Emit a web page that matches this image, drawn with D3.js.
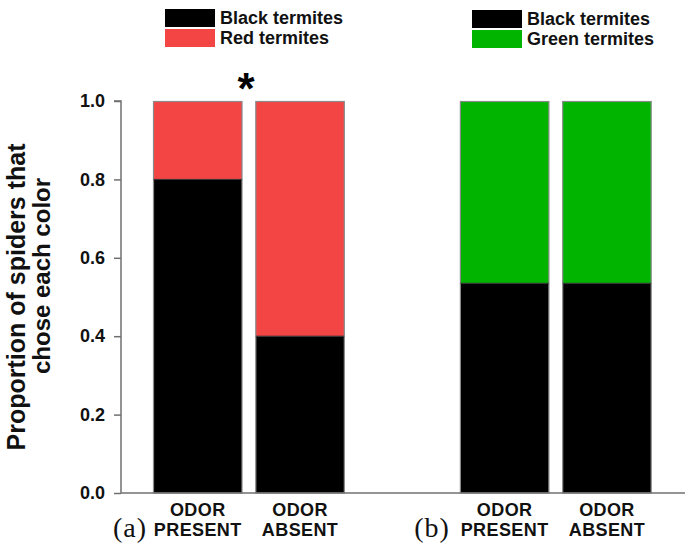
<!DOCTYPE html>
<html>
<head>
<meta charset="utf-8">
<script src="https://cdn.jsdelivr.net/npm/d3@7"></script>
<style>
  html, body { margin: 0; padding: 0; background: #fff; }
  svg { display: block; }
  text { font-family: "Liberation Sans", Arial, sans-serif; font-weight: bold; }
</style>
</head>
<body>
<svg id="chart" width="685" height="544"></svg>
<script>
// ---- data ----
const slots = ["a-present", "a-absent", "gap", "b-present", "b-absent"];
const barSlots = ["a-present", "a-absent", "b-present", "b-absent"];
const barGroup = ["a", "a", "b", "b"];
const blackValues = [0.80, 0.40, 0.535, 0.535];
const colorValues = [0.20, 0.60, 0.465, 0.465];
const conditionLine1 = ["ODOR", "ODOR", "ODOR", "ODOR"];
const conditionLine2 = ["PRESENT", "ABSENT", "PRESENT", "ABSENT"];
const panelLabels = ["(a)", "(b)"];
const legendA = ["Black termites", "Red termites"];
const legendB = ["Black termites", "Green termites"];
const yTicks = [0, 0.2, 0.4, 0.6, 0.8, 1.0];
const yTickLabels = ["0.0", "0.2", "0.4", "0.6", "0.8", "1.0"];
const yTitle = ["Proportion of spiders that", "chose each color"];

// ---- styles ----
const colBlack = "#000000";
const colRed = "#f44545";
const colGreen = "#00b400";
const axisCol = "#707070";

const svg = d3.select("#chart");

const y = d3.scaleLinear().domain([0, 1]).range([493, 101]);
const x = d3.scaleBand().domain(slots).range([153, 651.7]).paddingInner(0.125).paddingOuter(0);

const rows = barSlots.map((s, i) => ({slot: s, group: barGroup[i], black: blackValues[i], color: colorValues[i]}));
const stack = d3.stack().keys(["black", "color"]);
const series = stack(rows);

// bars
series.forEach(ser => {
  svg.append("g").selectAll("rect").data(ser).join("rect")
    .attr("x", d => x(d.data.slot) + 0.5)
    .attr("y", d => y(d[1]))
    .attr("width", x.bandwidth() - 1)
    .attr("height", d => y(d[0]) - y(d[1]))
    .attr("fill", d => ser.key === "black" ? colBlack : (d.data.group === "a" ? colRed : colGreen));
});
// bar outlines
svg.append("g").selectAll("rect").data(rows).join("rect")
  .attr("x", d => x(d.slot) + 0.5)
  .attr("y", y(1) + 0.5)
  .attr("width", x.bandwidth() - 1)
  .attr("height", y(0) - y(1) - 0.5)
  .attr("fill", "none")
  .attr("stroke", "#8a8a8a")
  .attr("stroke-width", 1.2);
// separators
svg.append("g").selectAll("line").data(rows).join("line")
  .attr("x1", d => x(d.slot) + 0.5)
  .attr("x2", d => x(d.slot) + x.bandwidth() - 0.5)
  .attr("y1", d => y(d.black))
  .attr("y2", d => y(d.black))
  .attr("stroke", "#333")
  .attr("stroke-width", 1);

// y axis
const yAxis = d3.axisLeft(y).tickValues(yTicks).tickFormat((d, i) => yTickLabels[i]).tickSize(7).tickPadding(9);
const gy = svg.append("g").attr("transform", "translate(121,0)").call(yAxis);
gy.select(".domain").attr("stroke", axisCol).attr("stroke-width", 1.5).attr("d", `M-7,${y(1)}H0V${y(0)}`);
gy.selectAll(".tick line").attr("stroke", axisCol).attr("stroke-width", 1.5);
gy.selectAll(".tick text").attr("fill", "#111").style("font-size", "18px").style("font-family", "'Liberation Sans', Arial, sans-serif").style("font-weight", "bold");

// x axis baseline
svg.append("line").attr("x1", 121).attr("x2", 685).attr("y1", y(0)).attr("y2", y(0))
  .attr("stroke", axisCol).attr("stroke-width", 1.5);

// x labels
const lab = svg.append("g");
rows.forEach((d, i) => {
  const cx = x(d.slot) + x.bandwidth() / 2;
  lab.append("text").attr("x", cx).attr("y", 516).attr("text-anchor", "middle")
    .style("font-size", "18px").style("letter-spacing", "0.4px").attr("fill", "#111").text(conditionLine1[i]);
  lab.append("text").attr("x", cx).attr("y", 536).attr("text-anchor", "middle")
    .style("font-size", "18px").style("letter-spacing", "0.4px").attr("fill", "#111").text(conditionLine2[i]);
});
// panel labels
const panelX = [130, 432];
panelLabels.forEach((t, i) => {
  svg.append("text").attr("x", panelX[i]).attr("y", 537).attr("text-anchor", "middle")
    .style("font-family", "'Liberation Serif', 'Times New Roman', serif").style("font-weight", "normal")
    .style("font-size", "28px").style("letter-spacing", "1px").attr("fill", "#111").text(t);
});

// y title (two lines)
const titleCenter = [297, 276];
const titleSize = [25, 24];
const titleBase = [25, 50];
yTitle.forEach((t, i) => {
  svg.append("text").attr("transform", `translate(${titleBase[i]},${titleCenter[i]}) rotate(-90)`)
    .attr("text-anchor", "middle").style("font-size", titleSize[i] + "px").attr("fill", "#111").text(t);
});

// legends
function legend(labels, colors, sx, tx, y0) {
  const g = svg.append("g");
  labels.forEach((t, i) => {
    g.append("rect").attr("x", sx).attr("y", y0 + i * 20).attr("width", 50).attr("height", 18)
      .attr("fill", colors[i]);
    g.append("text").attr("x", tx).attr("y", y0 + 15 + i * 20).style("font-size", "18px")
      .attr("fill", "#111").text(t);
  });
}
legend(legendA, [colBlack, colRed], 165, 220, 9);
legend(legendB, [colBlack, colGreen], 472, 527, 10);

// significance asterisk
svg.append("text").attr("x", 246).attr("y", 104).attr("text-anchor", "middle")
  .style("font-size", "44px").attr("fill", "#000").text("*");
</script>
</body>
</html>
